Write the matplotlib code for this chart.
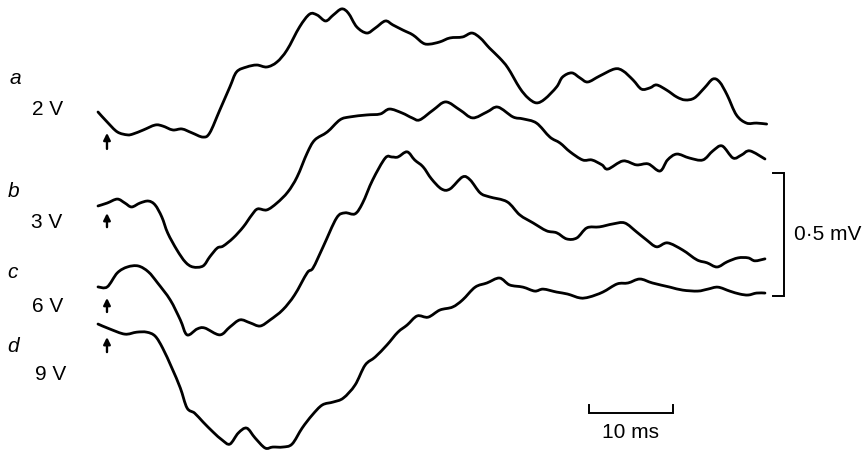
import matplotlib
matplotlib.use("Agg")
import matplotlib.pyplot as plt
from matplotlib.path import Path
from matplotlib.patches import PathPatch

plt.rcParams['font.family'] = ['Liberation Sans', 'DejaVu Sans']

# ---------------- data: time (ms from trace start), potential (uV) ----------------
t_a = [0, 1.1, 2.3, 3.5, 4.2, 5.4, 6.8, 7.7, 8.9, 10.0, 11.2, 12.5, 13.3, 14.5, 15.7, 16.5, 17.7, 18.9, 20.1, 21.3,
       22.5, 24.0, 25.2, 26.1, 27.1, 28.0, 29.0, 29.8, 30.8, 32.0, 33.0, 34.2, 35.1, 36.3, 37.5, 38.7, 39.5, 40.7, 41.9, 43.4,
       44.5, 45.5, 46.6, 47.8, 48.8, 50.2, 51.2, 52.2, 53.2, 54.6, 55.3, 56.4, 57.4, 58.3, 59.7, 61.5, 62.5, 63.7, 64.7, 65.7,
       66.5, 67.7, 68.9, 69.9, 71.0, 72.2, 73.2, 74.0, 74.9, 76.0, 77.2, 78.4, 79.6]
v_a = [0, -41, -81, -93, -89, -73, -53, -57, -73, -69, -85, -102, -85, 8, 102, 163, 183, 191, 183, 203,
       252, 346, 398, 394, 370, 394, 419, 402, 346, 321, 341, 370, 354, 333, 313, 280, 276, 285, 301, 305,
       321, 301, 260, 220, 179, 98, 57, 37, 53, 102, 142, 159, 138, 122, 146, 175, 167, 130, 93, 98,
       110, 89, 61, 49, 57, 98, 134, 122, 69, -12, -45, -45, -49]

t_b = [0, 1.1, 2.3, 3.2, 4.0, 5.0, 6.0, 6.8, 7.6, 8.3, 9.4, 10.4, 11.3, 12.5, 13.3, 14.2, 14.9, 16.1, 17.3, 18.3,
       19.0, 20.1, 21.3, 22.6, 23.7, 24.9, 25.8, 27.3, 28.8, 30.0, 32.0, 33.6, 34.7, 36.2, 37.4, 38.3, 39.9, 41.4, 43.1, 44.6,
       46.3, 47.6, 49.4, 50.6, 52.2, 53.8, 55.0, 56.2, 57.7, 58.8, 60.0, 60.7, 62.5, 64.1, 65.5, 66.9, 67.8, 68.9, 70.4, 72.0,
       73.2, 74.3, 75.6, 76.6, 77.6, 79.4]
v_b = [0, 12, 28, 12, -4, 12, 20, 4, -45, -110, -179, -228, -248, -244, -207, -171, -163, -130, -85, -37,
       -12, -16, 12, 57, 118, 215, 268, 301, 350, 362, 370, 374, 394, 378, 358, 350, 390, 423, 390, 358,
       382, 402, 362, 354, 337, 280, 256, 220, 187, 187, 167, 150, 183, 167, 171, 142, 187, 211, 195, 187,
       224, 244, 195, 207, 224, 191]

t_c = [0, 1.1, 2.3, 3.5, 4.8, 6.0, 7.1, 8.6, 9.8, 10.6, 11.8, 12.7, 14.5, 15.7, 16.9, 18.1, 19.3, 20.5, 22.0, 23.4,
       24.9, 25.6, 26.8, 28.4, 29.4, 30.6, 31.5, 32.7, 34.2, 35.0, 35.7, 36.8, 37.7, 38.7, 39.7, 40.9, 41.9, 43.4, 44.3, 45.5,
       46.6, 48.7, 50.2, 51.8, 53.4, 54.6, 55.8, 57.0, 58.2, 59.7, 61.3, 62.7, 64.1, 65.3, 66.5, 67.8, 69.6, 71.3, 72.5, 73.7,
       74.9, 76.2, 77.4, 78.2, 79.4]
v_c = [0, 0, 57, 81, 85, 61, 16, -53, -134, -195, -171, -167, -195, -163, -134, -146, -159, -134, -93, -33,
       57, 77, 163, 280, 301, 297, 341, 435, 524, 528, 528, 549, 516, 488, 439, 398, 398, 447, 435, 382,
       366, 346, 293, 260, 228, 220, 195, 199, 240, 244, 256, 260, 224, 191, 163, 179, 150, 110, 98, 81,
       102, 118, 118, 106, 114]

t_d = [0, 1.4, 3.2, 4.6, 5.8, 6.8, 7.7, 8.8, 9.8, 10.6, 11.5, 12.5, 13.7, 14.8, 15.7, 16.7, 17.7, 18.7, 19.9, 20.8,
       22.0, 23.1, 24.3, 25.5, 26.7, 28.0, 29.2, 30.6, 31.8, 33.0, 34.4, 35.7, 36.8, 38.0, 39.3, 40.7, 42.2, 43.4, 44.9, 46.3,
       47.8, 49.0, 50.6, 52.0, 53.0, 54.6, 55.9, 57.4, 58.5, 60.1, 61.8, 63.1, 64.5, 66.0, 68.1, 69.6, 71.4, 72.6, 73.8, 75.2,
       76.4, 77.4, 78.4, 79.4]
v_d = [0, -20, -41, -33, -33, -49, -98, -179, -260, -341, -362, -398, -439, -472, -488, -443, -423, -463, -504, -500,
       -500, -488, -423, -370, -329, -317, -301, -248, -167, -134, -85, -33, -4, 33, 28, 57, 69, 98, 150, 167,
       187, 159, 150, 134, 142, 130, 122, 106, 110, 130, 163, 167, 183, 167, 150, 138, 134, 142, 150, 134,
       122, 118, 126, 126]

trace_letters = ['a', 'b', 'c', 'd']
stim_labels = ['2 V', '3 V', '6 V', '9 V']
stim_time = 1.07          # ms, stimulus arrow
scale_mv_label = '0·5 mV'
scale_ms_label = '10 ms'
scale_uv = 500            # 0.5 mV
scale_ms = 10

# ---------------- layout ----------------
PX_PER_MS = 8.4
PX_PER_UV = 0.246
X0_PX = 98
W, H = 863, 450
offsets = [1374, 992, 663, 512]                  # vertical placement of traces (uV)
letter_pos = [(-10.5, 1488), (-10.8, 1028), (-10.8, 699), (-10.8, 398)]
stim_pos = [(-7.86, 1362), (-7.98, 902), (-7.86, 561), (-7.5, 285)]
arrow_span = [(1224, 1289), (906, 963), (561, 618), (398, 459)]

fig = plt.figure(figsize=(W / 100, H / 100), dpi=100)
ax = fig.add_axes([0, 0, 1, 1])
ax.set_xlim(-X0_PX / PX_PER_MS, (W - X0_PX) / PX_PER_MS)
ax.set_ylim(0, H / PX_PER_UV)
ax.axis('off')


def smooth_path(xs, ys):
    """Cubic Bezier path passing through every data point (Catmull-Rom tangents)."""
    pts = list(zip(xs, ys))
    n = len(pts)
    verts = [pts[0]]
    codes = [Path.MOVETO]
    for i in range(n - 1):
        p0 = pts[i - 1] if i > 0 else pts[i]
        p1 = pts[i]
        p2 = pts[i + 1]
        p3 = pts[i + 2] if i + 2 < n else pts[i + 1]
        c1 = (p1[0] + (p2[0] - p0[0]) / 6, p1[1] + (p2[1] - p0[1]) / 6)
        c2 = (p2[0] - (p3[0] - p1[0]) / 6, p2[1] - (p3[1] - p1[1]) / 6)
        verts += [c1, c2, p2]
        codes += [Path.CURVE4] * 3
    return Path(verts, codes)


lw_trace = 2.0
for t, v, off in zip([t_a, t_b, t_c, t_d], [v_a, v_b, v_c, v_d], offsets):
    path = smooth_path(t, [off + x for x in v])
    ax.add_patch(PathPatch(path, facecolor='none', edgecolor='black', lw=lw_trace,
                           joinstyle='round', capstyle='round'))

fontsize = 15
for (lx, ly), letter in zip(letter_pos, trace_letters):
    ax.text(lx, ly, letter, fontsize=fontsize, style='italic', ha='left', va='baseline')
for (sx, sy), lab in zip(stim_pos, stim_labels):
    ax.text(sx, sy, lab, fontsize=fontsize, ha='left', va='baseline')

for lo, hi in arrow_span:
    ax.annotate('', xy=(stim_time, hi), xytext=(stim_time, lo),
                arrowprops=dict(arrowstyle='-|>', color='black', lw=1.7,
                                mutation_scale=10, shrinkA=0, shrinkB=0))

# vertical scale bar
vb_t = 81.67
vb_lo = 626
tick = 1.3
ax.plot([vb_t - tick, vb_t, vb_t, vb_t - tick], [vb_lo, vb_lo, vb_lo + scale_uv, vb_lo + scale_uv],
        color='black', lw=1.4, solid_joinstyle='miter')
ax.text(vb_t + 1.2, vb_lo + scale_uv / 2, scale_mv_label, fontsize=fontsize, ha='left', va='center')

# horizontal scale bar
hb_t0 = 58.45
hb_u = 150
hb_tick = 33
ax.plot([hb_t0, hb_t0, hb_t0 + scale_ms, hb_t0 + scale_ms], [hb_u + hb_tick, hb_u, hb_u, hb_u + hb_tick],
        color='black', lw=1.4, solid_joinstyle='miter')
ax.text(hb_t0 + scale_ms / 2, 49, scale_ms_label, fontsize=fontsize, ha='center', va='baseline')

fig.savefig('out.png', dpi=100)
